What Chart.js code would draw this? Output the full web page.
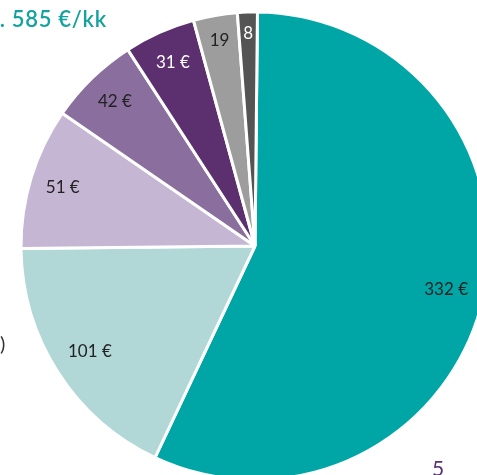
<!DOCTYPE html>
<html><head><meta charset="utf-8">
<script src="https://cdn.jsdelivr.net/npm/chart.js@4"></script>
<style>
html,body{margin:0;padding:0;width:477px;height:475px;overflow:hidden;background:#fff;font-family:Lato,"Open Sans",sans-serif;}
#wrap{position:absolute;left:-45px;top:-54px;width:600px;height:600px;}
.t{position:absolute;white-space:nowrap;}
</style></head><body>
<div id="wrap"><canvas id="c" width="600" height="600"></canvas></div>
<div class="t" style="left:-120px;top:5px;width:227px;text-align:right;color:#13a29e;font-size:22px;font-weight:600;letter-spacing:0.7px;">1. 585 €/kk</div>
<div class="t" style="left:0px;top:331px;color:#333;font-size:20px;">)</div>
<div class="t" style="left:432px;top:455px;color:#5b2f73;font-size:21px;">5</div>
<script>
const categories = ["A","B","C","D","E","F","G"];
// slice sizes as drawn in the picture
const values = [332, 104, 57, 36.5, 28.7, 17.7, 8];
const labels = ["332 €","101 €","51 €","42 €","31 €","19","8"];
const colors = ["#00a6a6","#b1d7d6","#c5b6d4","#8a6e9e","#5c2f6f","#9c9d9c","#545454"];
const labelColors = ["#222","#222","#222","#222","#fff","#222","#fff"];

const sliceLabels = {
  id:'sliceLabels',
  afterDatasetsDraw(chart){
    const ctx = chart.ctx;
    const meta = chart.getDatasetMeta(0);
    ctx.save();
    ctx.font = '17px Lato, "Open Sans", sans-serif';
    ctx.textAlign = 'center';
    ctx.textBaseline = 'middle';
    meta.data.forEach((arc,i)=>{
      const p = arc.getProps(['x','y','startAngle','endAngle','outerRadius'],true);
      const mid = (p.startAngle+p.endAngle)/2;
      const w = ctx.measureText(labels[i]).width;
      const r = p.outerRadius - 16 - w/2;
      ctx.fillStyle = labelColors[i];
      ctx.fillText(labels[i], p.x+Math.cos(mid)*r, p.y+Math.sin(mid)*r);
    });
    ctx.restore();
  }
};

new Chart(document.getElementById('c'),{
  type:'pie',
  data:{labels:categories,datasets:[{data:values,backgroundColor:colors,borderColor:'#fff',borderWidth:3}]},
  options:{
    responsive:false,animation:false,
    radius:234,
    rotation:0.6,
    layout:{padding:0},
    plugins:{legend:{display:false},tooltip:{enabled:false}}
  },
  plugins:[sliceLabels]
});
</script>
</body></html>
